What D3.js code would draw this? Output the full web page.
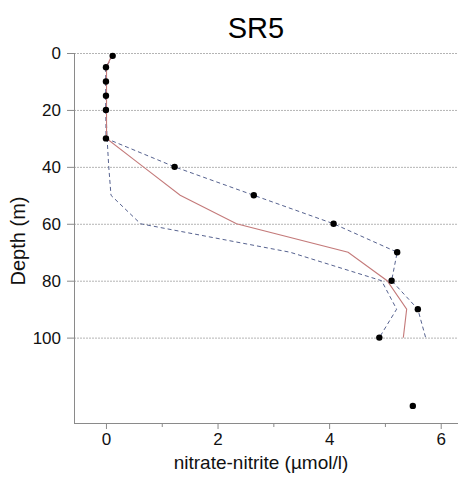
<!DOCTYPE html>
<html>
<head>
<meta charset="utf-8">
<script src="https://cdn.jsdelivr.net/npm/d3@7"></script>
<style>
  body { margin: 0; background: #fff; }
  svg { display: block; font-family: Arial, "Liberation Sans", sans-serif; }
</style>
</head>
<body>
<svg id="chart" width="459" height="477"></svg>
<script>
// ---- data ----
const title = "SR5";
const xLabel = "nitrate-nitrite (µmol/l)";
const yLabel = "Depth (m)";
const xTicks = [0, 2, 4, 6];
const xMinorTicks = [1, 3, 5];
const yTicks = [0, 20, 40, 60, 80, 100];

const profileDepths = [1, 5, 10, 15, 20, 30, 40, 50, 60, 70, 80, 90, 100];
const meanValues =    [0.1, 0.01, 0.01, 0.01, 0.01, 0.01, 0.67, 1.33, 2.34, 4.34, 5.04, 5.39, 5.33];
const maxValues =     [0.12, 0, 0, 0, 0, 0, 1.23, 2.65, 4.08, 5.22, 5.12, 5.59, 5.73];
const minValues =     [0.12, 0, 0, 0, 0, 0.02, 0.05, 0.09, 0.62, 3.3, 4.94, 5.21, 4.90];

const obsDepths = [1, 5, 10, 15, 20, 30, 40, 50, 60, 70, 80, 90, 100, 124];
const obsValues = [0.12, 0, 0, 0, 0, 0, 1.23, 2.65, 4.08, 5.22, 5.12, 5.59, 4.90, 5.50];

// ---- layout ----
const pLeft = 74, pRight = 458, pTop = 53, pBottom = 423;
const svg = d3.select("#chart");

const x = d3.scaleLinear().domain([-0.573, 6.31]).range([pLeft, pRight]);
const y = d3.scaleLinear().domain([0, 130]).range([pTop, pBottom]);

// gridlines
svg.append("g").selectAll("line").data(yTicks).join("line")
  .attr("x1", pLeft).attr("x2", pRight)
  .attr("y1", d => y(d) + 0.5).attr("y2", d => y(d) + 0.5)
  .attr("stroke", "#b4b4b4").attr("stroke-width", 1)
  .attr("stroke-dasharray", "2,1");

// axes
const axisColor = "#8a8a8a";
const gx = svg.append("g").attr("transform", `translate(0,${pBottom})`)
  .call(d3.axisBottom(x).tickValues(xTicks).tickSize(6).tickPadding(4).tickFormat(d3.format("d")));
svg.append("g").attr("transform", `translate(0,${pBottom})`)
  .call(d3.axisBottom(x).tickValues(xMinorTicks).tickSize(4).tickFormat(""))
  .call(g => g.select(".domain").remove())
  .selectAll("line").attr("stroke", axisColor);
gx.select(".domain").attr("stroke", axisColor).attr("d", `M${pLeft},0.5H${pRight}`);
gx.selectAll(".tick line").attr("stroke", axisColor);
gx.selectAll(".tick text").attr("font-size", 17).attr("fill", "#111")
  .attr("font-family", "Arial, 'Liberation Sans', sans-serif");

const gy = svg.append("g").attr("transform", `translate(${pLeft},0)`)
  .call(d3.axisLeft(y).tickValues(yTicks).tickSize(7).tickPadding(6));
gy.select(".domain").attr("stroke", axisColor).attr("d", `M0.5,${pTop}V${pBottom}`);
gy.selectAll(".tick line").attr("stroke", axisColor);
gy.selectAll(".tick text").attr("font-size", 17).attr("fill", "#111")
  .attr("font-family", "Arial, 'Liberation Sans', sans-serif");

// lines
const line = d3.line().x(d => x(d[0])).y(d => y(d[1]));
const zipWith = (vals) => vals.map((v, i) => [v, profileDepths[i]]);

svg.append("path").datum(zipWith(minValues)).attr("d", line)
  .attr("fill", "none").attr("stroke", "#56628f").attr("stroke-width", 1)
  .attr("stroke-dasharray", "4,3");
svg.append("path").datum(zipWith(maxValues)).attr("d", line)
  .attr("fill", "none").attr("stroke", "#56628f").attr("stroke-width", 1)
  .attr("stroke-dasharray", "4,3");
svg.append("path").datum(zipWith(meanValues)).attr("d", line)
  .attr("fill", "none").attr("stroke", "#c47a7a").attr("stroke-width", 1.1);

// dots
svg.append("g").selectAll("circle").data(obsValues.map((v, i) => [v, obsDepths[i]])).join("circle")
  .attr("cx", d => x(d[0])).attr("cy", d => y(d[1])).attr("r", 3.2).attr("fill", "#000");

// title and labels
svg.append("text").attr("x", 256).attr("y", 37.5).attr("text-anchor", "middle")
  .attr("font-size", 29).attr("fill", "#000").text(title);
svg.append("text").attr("x", 261).attr("y", 469).attr("text-anchor", "middle")
  .attr("font-size", 19).attr("fill", "#111").text(xLabel);
svg.append("text").attr("transform", "translate(25,241) rotate(-90)").attr("text-anchor", "middle")
  .attr("font-size", 20).attr("fill", "#111").text(yLabel);
</script>
</body>
</html>
